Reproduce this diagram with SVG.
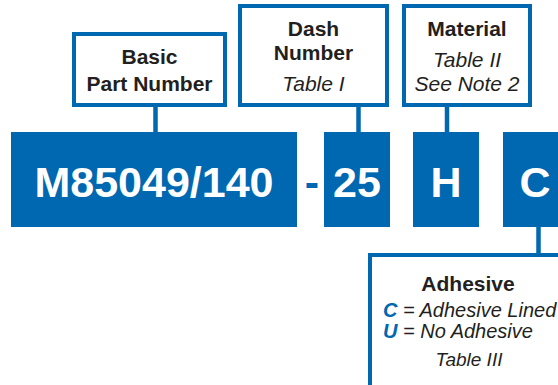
<svg xmlns="http://www.w3.org/2000/svg" width="558" height="385" viewBox="0 0 558 385">
<style>
.box{fill:#fff;stroke:#0067b1;stroke-width:4}
.blk{fill:#0067b1}
.big{font-family:"Liberation Sans",Arial,sans-serif;font-weight:bold;font-size:43px;fill:#fff;text-anchor:middle}
.lbl{font-family:"Liberation Sans",Arial,sans-serif;font-size:21px;fill:#231f20;text-anchor:middle}
.b{font-weight:bold}
.i{font-style:italic}
.con{stroke:#0067b1;stroke-width:4.5;fill:none}
</style>
<rect width="558" height="385" fill="#fff"/>
<g id="connectors">
<line class="con" x1="155.5" y1="105" x2="155.5" y2="134"/>
<line class="con" x1="358.5" y1="105" x2="358.5" y2="134"/>
<line class="con" x1="447" y1="105" x2="447" y2="134"/>
<line class="con" x1="538.5" y1="225" x2="538.5" y2="257"/>
</g>
<g id="basic-block">
<rect class="blk" x="11" y="132" width="286" height="95"/>
<text class="big" x="154" y="197">M85049/140</text>
</g>
<g id="dash-sign">
<text x="312" y="197" style="font-family:'Liberation Sans',Arial,sans-serif;font-weight:bold;font-size:43px;fill:#0067b1;text-anchor:middle">-</text>
</g>
<g id="dash-block">
<rect class="blk" x="324" y="132" width="66" height="95"/>
<text class="big" x="357" y="197">25</text>
</g>
<g id="material-block">
<rect class="blk" x="413" y="132" width="66" height="95"/>
<text class="big" x="446" y="197">H</text>
</g>
<g id="adhesive-block">
<rect class="blk" x="503" y="132" width="66" height="95"/>
<text class="big" x="535" y="197">C</text>
</g>
<g id="basic-label">
<rect class="box" x="74" y="34" width="151" height="71"/>
<text class="lbl b" x="149.5" y="64">Basic</text>
<text class="lbl b" x="149.5" y="91">Part Number</text>
</g>
<g id="dash-label">
<rect class="box" x="240" y="6" width="147" height="99"/>
<text class="lbl b" x="313.5" y="36">Dash</text>
<text class="lbl b" x="313.5" y="60">Number</text>
<text class="lbl i" x="313.5" y="91">Table I</text>
</g>
<g id="material-label">
<rect class="box" x="404" y="6" width="126" height="99"/>
<text class="lbl b" x="467" y="36">Material</text>
<text class="lbl i" x="467" y="67">Table II</text>
<text class="lbl i" x="467" y="91">See Note 2</text>
</g>
<g id="adhesive-label">
<rect class="box" x="370" y="255" width="200" height="140"/>
<text class="lbl b" x="468" y="291">Adhesive</text>
<text class="lbl i" x="383" y="317" style="font-size:20px;text-anchor:start"><tspan class="b" fill="#0067b1">C</tspan> = Adhesive Lined</text>
<text class="lbl i" x="383" y="338" style="font-size:20px;text-anchor:start"><tspan class="b" fill="#0067b1">U</tspan> = No Adhesive</text>
<text class="lbl i" x="469" y="366" style="font-size:19px">Table III</text>
</g>
</svg>
